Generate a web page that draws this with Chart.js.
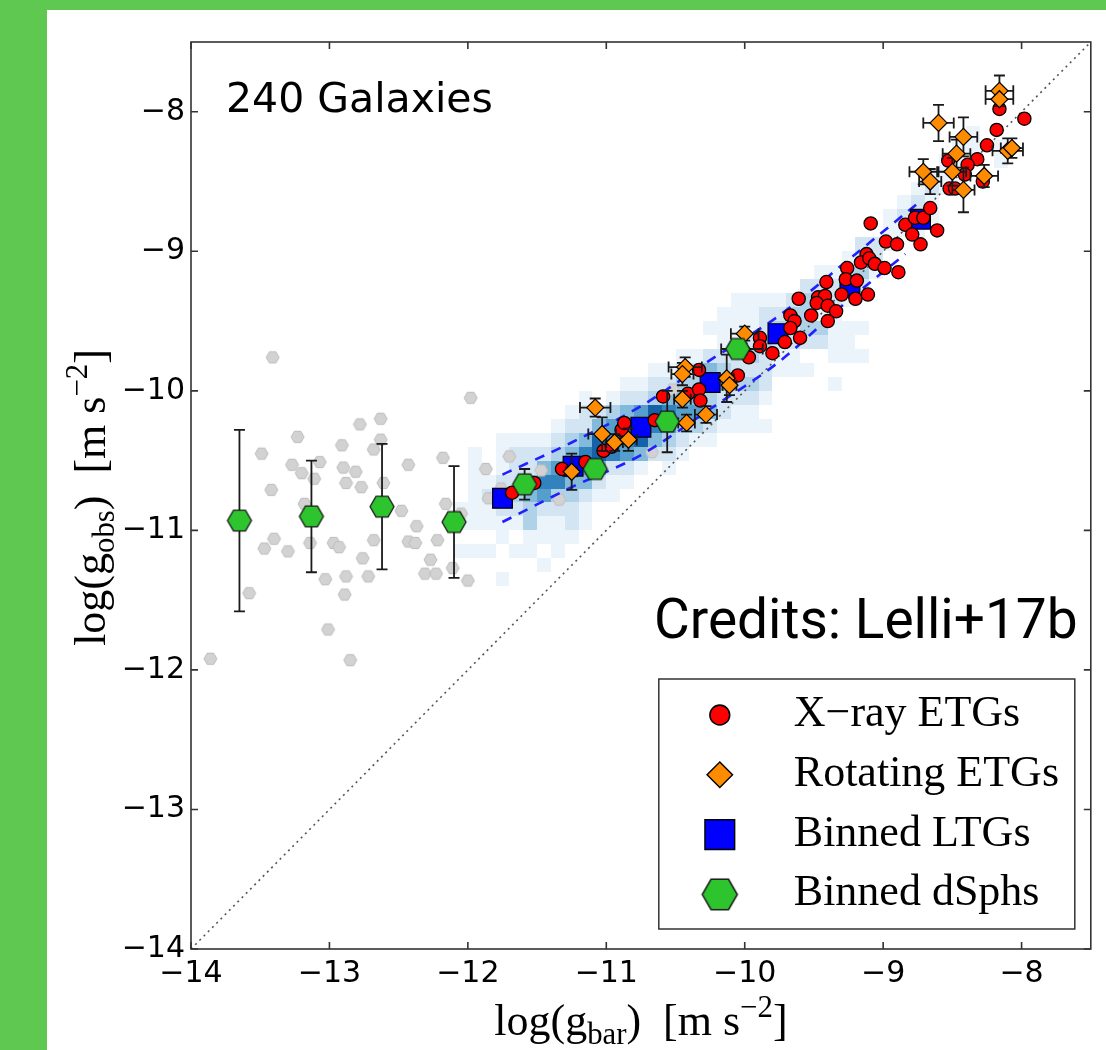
<!DOCTYPE html>
<html lang="en">
<head>
<meta charset="UTF-8">
<title>Radial acceleration relation - 240 galaxies</title>
<script src="https://cdn.jsdelivr.net/npm/chart.js"></script>
<style>
  html, body { margin: 0; padding: 0; }
  body { background: #5fc850; width: 1106px; height: 1050px; overflow: hidden; position: relative; }
  #panel { position: absolute; left: 47px; top: 10px; width: 1059px; height: 1040px; background: #fff; }
  #rar { display: block; }
</style>
</head>
<body>
<div id="panel"><canvas id="rar" width="1059" height="1040"></canvas></div>
<script>
// log(g_bar), log(g_obs) in m s^-2
const xrayEtgs = [
  [-11.68,-10.73],[-11.52,-10.66],[-11.32,-10.56],[-11.15,-10.51],[-11.02,-10.43],[-10.96,-10.40],
  [-10.89,-10.28],[-10.87,-10.23],[-10.65,-10.21],[-10.59,-10.04],[-10.41,-10.02],[-10.33,-9.99],
  [-10.32,-10.07],[-10.33,-9.85],[-10.05,-9.89],[-9.97,-9.76],[-9.89,-9.62],[-9.89,-9.68],
  [-9.80,-9.73],[-9.71,-9.65],[-9.67,-9.46],[-9.64,-9.50],[-9.60,-9.62],[-9.52,-9.46],
  [-9.67,-9.55],[-9.61,-9.34],[-9.47,-9.33],[-9.42,-9.32],[-9.48,-9.37],[-9.40,-9.39],
  [-9.34,-9.43],[-9.40,-9.50],[-9.41,-9.22],[-9.30,-9.31],[-9.20,-9.34],[-9.11,-9.31],
  [-9.26,-9.12],[-9.27,-9.20],[-9.19,-9.21],[-9.12,-9.02],[-9.16,-9.08],[-9.10,-9.05],
  [-9.06,-9.09],[-8.99,-9.12],[-8.89,-9.15],[-9.09,-8.80],[-8.98,-8.93],[-8.90,-8.95],
  [-8.73,-8.95],[-8.84,-8.81],[-8.77,-8.76],[-8.71,-8.76],[-8.79,-8.88],[-8.66,-8.69],
  [-8.61,-8.85],[-8.16,-7.98],[-7.98,-8.05],[-8.18,-8.13],[-8.25,-8.24],[-8.32,-8.34],
  [-8.53,-8.35],[-8.39,-8.38],[-8.41,-8.45],[-8.52,-8.55],[-8.48,-8.55],[-8.28,-8.50]
];

// x, y, xErr, yErr
const rotatingEtgs = [
  [-11.25,-10.58,0.04,0.13],[-11.08,-10.12,0.11,0.065],[-11.03,-10.31,0.10,0.12],
  [-10.94,-10.37,0.06,0.06],[-10.84,-10.35,0.06,0.08],[-10.43,-9.83,0.12,0.07],
  [-10.45,-9.88,0.08,0.08],[-10.45,-10.06,0.06,0.06],[-10.42,-10.23,0.06,0.06],
  [-10.28,-10.17,0.08,0.06],[-10.13,-9.91,0.05,0.17],[-10.11,-9.96,0.05,0.07],
  [-10.00,-9.59,0.10,0.05],[-10.02,-9.70,0.15,0.04],
  [-8.16,-7.85,0.10,0.11],[-8.16,-7.91,0.10,0.05],[-8.60,-8.08,0.11,0.13],
  [-8.42,-8.18,0.10,0.14],[-8.10,-8.28,0.11,0.09],[-8.07,-8.26,0.08,0.07],
  [-8.47,-8.30,0.10,0.10],[-8.71,-8.43,0.10,0.09],[-8.66,-8.50,0.08,0.09],
  [-8.50,-8.43,0.10,0.10],[-8.27,-8.46,0.10,0.08],[-8.42,-8.56,0.08,0.16]
];

const binnedLtgs = [
  [-11.75,-10.77],[-11.24,-10.54],[-10.75,-10.26],[-10.25,-9.94],[-9.76,-9.59],[-9.24,-9.26],[-8.73,-8.77]
];

// x, y, yErr
const binnedDsphs = [
  [-13.65,-10.93,0.65],[-13.13,-10.90,0.40],[-12.62,-10.83,0.45],[-12.10,-10.94,0.40],
  [-11.59,-10.67,0.11],[-11.08,-10.56,0.05],[-10.56,-10.22,0.22],[-10.05,-9.70,0.05]
];

// individual dwarf spheroidals (grey)
const dsphGalaxies = [
  [-13.41,-9.76],[-11.98,-10.05],[-12.78,-10.24],[-12.63,-10.20],[-13.23,-10.33],[-12.63,-10.35],
  [-12.68,-10.42],[-12.91,-10.39],[-13.49,-10.45],[-13.27,-10.53],[-13.20,-10.59],[-13.07,-10.51],
  [-12.90,-10.55],[-12.81,-10.58],[-13.11,-10.63],[-12.88,-10.66],[-12.77,-10.69],[-12.61,-10.66],
  [-12.43,-10.53],[-12.18,-10.48],[-11.70,-10.47],[-11.87,-10.56],[-11.47,-10.57],[-13.42,-10.71],
  [-13.18,-10.81],[-12.48,-10.86],[-12.16,-10.81],[-12.05,-10.88],[-11.85,-10.77],[-11.76,-10.70],
  [-12.37,-10.97],[-13.40,-11.06],[-13.47,-11.13],[-13.30,-11.15],[-13.14,-11.09],[-12.97,-11.09],
  [-12.93,-11.12],[-12.68,-11.07],[-12.43,-11.08],[-12.38,-11.09],[-12.22,-11.07],[-12.27,-11.21],
  [-12.76,-11.20],[-12.88,-11.33],[-12.72,-11.33],[-13.03,-11.35],[-12.31,-11.31],[-12.23,-11.31],
  [-12.11,-11.27],[-12.00,-11.36],[-12.89,-11.46],[-13.58,-11.45],[-13.01,-11.71],[-13.86,-11.92],
  [-12.85,-11.93],[-11.34,-10.78],[-10.67,-10.44],[-10.52,-9.99]
];

// scatter envelope around the LTG relation
const scatterUpper = [[-11.75,-10.60],[-11.25,-10.37],[-10.75,-10.11],[-10.25,-9.78],[-9.75,-9.46],[-9.25,-9.06],[-8.73,-8.64]];
const scatterLower = [[-11.75,-10.94],[-11.25,-10.69],[-10.75,-10.46],[-10.25,-10.13],[-9.75,-9.79],[-9.25,-9.35],[-8.84,-9.02]];

const unityLine = [[-14,-14],[-7.5,-7.5]];

// 2D histogram of LTG points: 0.1 dex bins, row 0 starts at y = -8.0,
// each row = [first column, levels], column 0 starts at x = -12.2
const histLeft = -12.2;
const histTop = -8.0;
const histBin = 0.1;
const histRows = [
  [0, ''],
  [38, '1'],
  [37, '11.1'],
  [36, '11..1'],
  [35, '111'],
  [34, '121'],
  [33, '121'],
  [32, '1221'],
  [32, '111'],
  [30, '221'],
  [29, '122'],
  [27, '11331'],
  [26, '22232'],
  [21, '111123221'],
  [20, '111223311'],
  [19, '111123233111'],
  [20, '1123222211'],
  [17, '112223211..111'],
  [15, '112243222111'],
  [13, '11223344332....1'],
  [10, '1.122344432221'],
  [9, '12234576554211'],
  [8, '1224566653321111'],
  [4, '1111234766743211'],
  [2, '1.12223467654221'],
  [2, '1.12245554221.1'],
  [2, '112246644211'],
  [2, '12234533211'],
  [1, '1112232221'],
  [1, '1111131121'],
  [4, '1.1111'],
  [1, '111.11.1'],
  [7, '1'],
  [4, '1']
];
const blues = ['rgba(0,0,0,0)', '#ebf3fb', '#d3e4f3', '#b0d2e8', '#82badb', '#569fcd', '#3282be', '#1562a8', '#08468b'];

const tickValues = [-14, -13, -12, -11, -10, -9, -8];

const minus = v => String(v).replace('-', '\u2212');

function hexagonCanvas(width, fill, edge, lineWidth) {
  const h = width * Math.sqrt(3) / 2;
  const pad = Math.ceil(lineWidth) + 1;
  const c = document.createElement('canvas');
  c.width = Math.ceil(width + 2 * pad);
  c.height = Math.ceil(h + 2 * pad);
  const g = c.getContext('2d');
  const cx = c.width / 2, cy = c.height / 2, r = width / 2;
  g.beginPath();
  for (let k = 0; k < 6; k++) {
    const a = k * Math.PI / 3;
    g.lineTo(cx + r * Math.cos(a), cy + r * Math.sin(a));
  }
  g.closePath();
  g.fillStyle = fill;
  g.fill();
  g.lineWidth = lineWidth;
  g.strokeStyle = edge;
  g.stroke();
  return c;
}

const green = '#2ec42e';
const hexDsph = hexagonCanvas(24, green, '#1a1a1a', 1.3);
const hexDsphLegend = hexagonCanvas(35, green, '#1a1a1a', 1.5);
const hexGrey = hexagonCanvas(13, '#d2d2d2', '#bcbcbc', 1);

const toPoints = arr => arr.map(p => ({x: p[0], y: p[1]}));

const histPlugin = {
  id: 'hist2d',
  beforeDatasetsDraw(chart) {
    const {ctx, chartArea, scales: {x, y}} = chart;
    ctx.save();
    ctx.beginPath();
    ctx.rect(chartArea.left, chartArea.top, chartArea.width, chartArea.height);
    ctx.clip();
    histRows.forEach(([start, levels], r) => {
      const yTop = histTop - r * histBin;
      const py0 = Math.round(y.getPixelForValue(yTop));
      const py1 = Math.round(y.getPixelForValue(yTop - histBin));
      for (let k = 0; k < levels.length; k++) {
        if (levels[k] === '.') continue;
        const xLeft = histLeft + (start + k) * histBin;
        const px0 = Math.round(x.getPixelForValue(xLeft));
        const px1 = Math.round(x.getPixelForValue(xLeft + histBin));
        ctx.fillStyle = blues[+levels[k]];
        ctx.fillRect(px0, py0, px1 - px0, py1 - py0);
      }
    });
    ctx.restore();
  }
};

const errorBarPlugin = {
  id: 'errorBars',
  beforeDatasetDraw(chart, args) {
    const ds = chart.data.datasets[args.index];
    if (!ds.errorBars) return;
    const {ctx, scales: {x, y}} = chart;
    const cap = 5.5;
    ctx.save();
    ctx.strokeStyle = '#1a1a1a';
    ctx.lineWidth = 1.8;
    ctx.beginPath();
    ds.data.forEach(p => {
      const px = x.getPixelForValue(p.x), py = y.getPixelForValue(p.y);
      if (p.yErr) {
        const y0 = y.getPixelForValue(p.y - p.yErr), y1 = y.getPixelForValue(p.y + p.yErr);
        ctx.moveTo(px, y0); ctx.lineTo(px, y1);
        ctx.moveTo(px - cap, y0); ctx.lineTo(px + cap, y0);
        ctx.moveTo(px - cap, y1); ctx.lineTo(px + cap, y1);
      }
      if (p.xErr) {
        const x0 = x.getPixelForValue(p.x - p.xErr), x1 = x.getPixelForValue(p.x + p.xErr);
        ctx.moveTo(x0, py); ctx.lineTo(x1, py);
        ctx.moveTo(x0, py - cap); ctx.lineTo(x0, py + cap);
        ctx.moveTo(x1, py - cap); ctx.lineTo(x1, py + cap);
      }
    });
    ctx.stroke();
    ctx.restore();
  }
};

function drawMathText(ctx, parts, x, y, size) {
  const fontFor = kind => `${kind ? size * 0.7 : size}px "Liberation Serif", "DejaVu Serif", serif`;
  const widths = parts.map(([t, kind]) => { ctx.font = fontFor(kind); return ctx.measureText(t).width; });
  const total = widths.reduce((a, b) => a + b, 0);
  let cx = x - total / 2;
  parts.forEach(([t, kind], i) => {
    ctx.font = fontFor(kind);
    const dy = kind === 'sub' ? size * 0.2 : kind === 'sup' ? -size * 0.42 : 0;
    ctx.fillText(t, cx, y + dy);
    cx += widths[i];
  });
}

function drawLegendMarker(ctx, ds, x, y, scale) {
  if (ds.pointStyle instanceof HTMLCanvasElement) {
    ctx.drawImage(hexDsphLegend, x - hexDsphLegend.width / 2, y - hexDsphLegend.height / 2);
    return;
  }
  const r = ds.pointRadius * scale;
  ctx.beginPath();
  if (ds.pointStyle === 'circle') {
    ctx.arc(x, y, r, 0, Math.PI * 2);
  } else if (ds.pointStyle === 'rectRot') {
    ctx.moveTo(x - r, y); ctx.lineTo(x, y - r); ctx.lineTo(x + r, y); ctx.lineTo(x, y + r);
    ctx.closePath();
  } else {
    const s = Math.SQRT1_2 * r;
    ctx.rect(x - s, y - s, 2 * s, 2 * s);
  }
  ctx.fillStyle = ds.backgroundColor;
  ctx.fill();
  ctx.lineWidth = ds.borderWidth * 1.2;
  ctx.strokeStyle = ds.borderColor;
  ctx.stroke();
}

const decorPlugin = {
  id: 'decor',
  afterDraw(chart) {
    const {ctx, chartArea: a, scales: {x, y}} = chart;
    ctx.save();

    // frame and inward ticks on all four sides
    ctx.strokeStyle = '#333';
    ctx.lineWidth = 1.6;
    ctx.strokeRect(a.left, a.top, a.right - a.left, a.bottom - a.top);
    const tl = 7;
    ctx.beginPath();
    x.ticks.forEach(t => {
      const px = x.getPixelForValue(t.value);
      ctx.moveTo(px, a.bottom); ctx.lineTo(px, a.bottom - tl);
      ctx.moveTo(px, a.top); ctx.lineTo(px, a.top + tl);
    });
    y.ticks.forEach(t => {
      const py = y.getPixelForValue(t.value);
      ctx.moveTo(a.left, py); ctx.lineTo(a.left + tl, py);
      ctx.moveTo(a.right, py); ctx.lineTo(a.right - tl, py);
    });
    ctx.stroke();

    // axis titles
    ctx.fillStyle = '#000';
    ctx.textBaseline = 'alphabetic';
    ctx.textAlign = 'left';
    drawMathText(ctx, [['log(g'], ['bar', 'sub'], [')  [m s'], ['\u22122', 'sup'], [']']],
      (a.left + a.right) / 2, a.bottom + 86, 44);
    ctx.save();
    ctx.translate(a.left - 86, (a.top + a.bottom) / 2 + 2);
    ctx.rotate(-Math.PI / 2);
    drawMathText(ctx, [['log(g'], ['obs', 'sub'], [')  [m s'], ['\u22122', 'sup'], [']']], 0, 0, 44);
    ctx.restore();

    // annotations
    ctx.font = '41px "DejaVu Sans"';
    ctx.fillText('240 Galaxies', a.left + 35, a.top + 70);
    ctx.font = '55px Roboto';
    ctx.fillText('Credits: Lelli+17b', a.left + 463, a.top + 596);

    // legend box
    const lw = 416, lh = 250;
    const lx = a.right - 16 - lw, ly = a.bottom - 20 - lh;
    ctx.fillStyle = '#fff';
    ctx.fillRect(lx, ly, lw, lh);
    ctx.strokeStyle = '#333';
    ctx.lineWidth = 1.5;
    ctx.strokeRect(lx, ly, lw, lh);
    const entries = chart.data.datasets.filter(d => d.legendRank).sort((p, q) => p.legendRank - q.legendRank);
    entries.forEach((ds, i) => {
      const cy = ly + 36 + i * 59.8;
      drawLegendMarker(ctx, ds, lx + 61, cy, 1.5);
      ctx.fillStyle = '#000';
      ctx.font = '44px "Liberation Serif", "DejaVu Serif", serif';
      ctx.fillText(ds.label, lx + 135, cy + 11);
    });
    ctx.restore();
  }
};

const axisCommon = {
  type: 'linear',
  min: -14,
  max: -7.5,
  grid: { display: false, drawTicks: false },
  border: { display: false },
  afterBuildTicks: s => { s.ticks = tickValues.map(v => ({value: v})); },
  ticks: {
    color: '#000',
    font: { family: 'DejaVu Sans', size: 30 },
    callback: v => minus(v)
  }
};

new Chart(document.getElementById('rar'), {
  type: 'scatter',
  data: {
    datasets: [
      {
        label: 'Binned dSphs', legendRank: 4, errorBars: true,
        data: binnedDsphs.map(p => ({x: p[0], y: p[1], yErr: p[2]})),
        pointStyle: hexDsph, pointRadius: 12, order: 1
      },
      {
        label: 'Rotating ETGs', legendRank: 2, errorBars: true,
        data: rotatingEtgs.map(p => ({x: p[0], y: p[1], xErr: p[2], yErr: p[3]})),
        pointStyle: 'rectRot', pointRadius: 8.5,
        backgroundColor: '#ff8c00', borderColor: '#000', borderWidth: 1.2, order: 2
      },
      {
        label: 'X\u2212ray ETGs', legendRank: 1,
        data: toPoints(xrayEtgs),
        pointStyle: 'circle', pointRadius: 6.6,
        backgroundColor: '#ff0000', borderColor: '#000', borderWidth: 1.3, order: 3
      },
      {
        label: 'Binned LTGs', legendRank: 3,
        data: toPoints(binnedLtgs),
        pointStyle: 'rect', pointRadius: 14,
        backgroundColor: '#0000ff', borderColor: '#000', borderWidth: 1.2, order: 4
      },
      {
        label: 'upper scatter', data: toPoints(scatterUpper), showLine: true, pointRadius: 0,
        borderColor: '#1f1fff', borderWidth: 2.6, borderDash: [10, 8], cubicInterpolationMode: 'monotone', order: 5
      },
      {
        label: 'lower scatter', data: toPoints(scatterLower), showLine: true, pointRadius: 0,
        borderColor: '#1f1fff', borderWidth: 2.6, borderDash: [10, 8], cubicInterpolationMode: 'monotone', order: 5
      },
      {
        label: 'dSphs', data: toPoints(dsphGalaxies),
        pointStyle: hexGrey, pointRadius: 6, order: 6
      },
      {
        label: '1:1', data: toPoints(unityLine), showLine: true, pointRadius: 0,
        borderColor: '#555', borderWidth: 1.6, borderDash: [2, 4], order: 7
      }
    ]
  },
  options: {
    responsive: false,
    animation: false,
    devicePixelRatio: 1,
    events: [],
    layout: { padding: { left: 0, right: 9, top: 32, bottom: 0 } },
    plugins: { legend: { display: false }, tooltip: { enabled: false } },
    scales: {
      x: Object.assign({}, axisCommon, {
        afterFit: s => { s.height = 101; },
        ticks: Object.assign({}, axisCommon.ticks, { padding: 7 })
      }),
      y: Object.assign({}, axisCommon, {
        afterFit: s => { s.width = 144; },
        ticks: Object.assign({}, axisCommon.ticks, { padding: 6 })
      })
    }
  },
  plugins: [histPlugin, errorBarPlugin, decorPlugin]
});
</script>
</body>
</html>
